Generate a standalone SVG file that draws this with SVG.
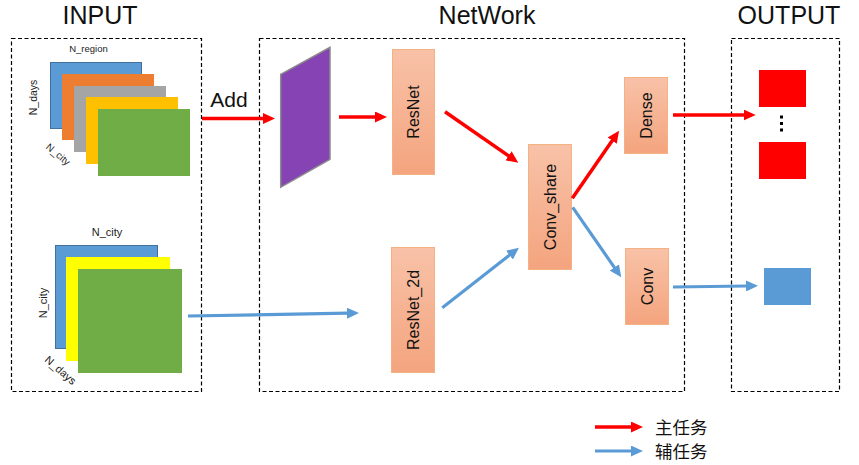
<svg xmlns="http://www.w3.org/2000/svg" width="859" height="465" viewBox="0 0 859 465">
<style>
.frame{fill:none;stroke:#000;stroke-width:1.2;stroke-dasharray:4 2.5}
.title{font-family:"Liberation Sans","Noto Sans",sans-serif;font-size:25px;fill:#111;text-anchor:middle}
.lbl{font-family:"Liberation Sans",Arial,sans-serif;fill:#222;text-anchor:middle}
.node rect{fill:url(#ng);stroke:#F4B183;stroke-width:1}
.ntext{font-family:"Liberation Sans",Arial,sans-serif;font-size:16px;fill:#111;text-anchor:middle;dominant-baseline:central}
.red{stroke:#FF0000;stroke-width:3.5;fill:none;marker-end:url(#ar)}
.blue{stroke:#5B9BD5;stroke-width:3.2;fill:none;marker-end:url(#ab)}
.leg{font-family:"Noto Sans CJK SC","Noto Sans",sans-serif;font-size:17.5px;fill:#111}
</style>
<defs>
<linearGradient id="ng" x1="0" y1="0" x2="0" y2="1">
<stop offset="0" stop-color="#F8C2A8"/>
<stop offset="1" stop-color="#F4A47E"/>
</linearGradient>
<marker id="ar" markerUnits="userSpaceOnUse" markerWidth="12" markerHeight="11" refX="1" refY="5.5" orient="auto">
<path d="M0,0 L12,5.5 L0,11 z" fill="#FF0000"/>
</marker>
<marker id="ab" markerUnits="userSpaceOnUse" markerWidth="12" markerHeight="11" refX="1" refY="5.5" orient="auto">
<path d="M0,0 L12,5.5 L0,11 z" fill="#5B9BD5"/>
</marker>
</defs>
<rect width="859" height="465" fill="#fff"/>

<g id="titles">
<text class="title" x="100" y="24">INPUT</text>
<text class="title" x="487" y="24">NetWork</text>
<text class="title" x="789" y="24">OUTPUT</text>
</g>

<g id="frames">
<rect class="frame" x="11.5" y="38.5" width="190" height="353"/>
<rect class="frame" x="259.5" y="38.5" width="425" height="353"/>
<rect class="frame" x="731.5" y="38.5" width="108" height="353"/>
</g>

<g id="input-main">
<rect x="50.5" y="62.5" width="91" height="66" fill="#5B9BD5" stroke="#41719C" stroke-width="1"/>
<rect x="62" y="74" width="92" height="66" fill="#ED7D31"/>
<rect x="74" y="86" width="92" height="66" fill="#A5A5A5"/>
<rect x="86" y="97" width="92" height="67" fill="#FFC000"/>
<rect x="98" y="109" width="92" height="67" fill="#70AD47"/>
<text class="lbl" x="88.5" y="51.5" font-size="9.5">N_region</text>
<text class="lbl" font-size="10.5" transform="translate(36.5,97.5) rotate(-90)">N_days</text>
<text class="lbl" font-size="10" transform="translate(56,157) rotate(40)">N_city</text>
</g>

<g id="input-aux">
<rect x="55.5" y="245.5" width="102" height="103" fill="#5B9BD5" stroke="#41719C" stroke-width="1"/>
<rect x="66" y="257" width="104" height="104" fill="#FFFF00"/>
<rect x="78" y="269" width="104" height="104" fill="#70AD47"/>
<text class="lbl" x="107" y="236" font-size="11">N_city</text>
<text class="lbl" font-size="11" transform="translate(47,303) rotate(-90)">N_city</text>
<text class="lbl" font-size="11" transform="translate(58,373) rotate(41)">N_days</text>
</g>

<g id="add-layer">
<polygon points="280.7,74.3 330,47.3 330,159.3 280.7,187.3" fill="#8543B3" stroke="#8C8C8C" stroke-width="1.5"/>
</g>

<g id="resnet" class="node">
<rect x="392.5" y="49.5" width="42" height="125"/>
<text class="ntext" transform="translate(413.5,112) rotate(-90)">ResNet</text>
</g>
<g id="resnet2d" class="node">
<rect x="391.5" y="247.5" width="43" height="125"/>
<text class="ntext" transform="translate(413,310) rotate(-90)">ResNet_2d</text>
</g>
<g id="convshare" class="node">
<rect x="528.5" y="144.5" width="43" height="125"/>
<text class="ntext" transform="translate(550,207) rotate(-90)">Conv_share</text>
</g>
<g id="dense" class="node">
<rect x="624.5" y="77.5" width="43" height="76"/>
<text class="ntext" transform="translate(646,115.5) rotate(-90)">Dense</text>
</g>
<g id="conv" class="node">
<rect x="625.5" y="248.5" width="43" height="76"/>
<text class="ntext" transform="translate(647,286.5) rotate(-90)">Conv</text>
</g>

<g id="output-main">
<rect x="759" y="70" width="47" height="37" fill="#FF0000"/>
<rect x="759" y="142" width="47" height="37" fill="#FF0000"/>
<rect x="780" y="115.5" width="3" height="3" fill="#000"/>
<rect x="780" y="122" width="3" height="3" fill="#000"/>
<rect x="780" y="128.5" width="3" height="3" fill="#000"/>
</g>
<g id="output-aux">
<rect x="764" y="268" width="47" height="37" fill="#5B9BD5"/>
</g>

<g id="connectors">
<line class="red" x1="202" y1="118.5" x2="264" y2="118.5"/>
<text x="229" y="107" font-family="Liberation Sans,Arial,sans-serif" font-size="21" fill="#111" text-anchor="middle">Add</text>
<line class="red" x1="339" y1="117" x2="376" y2="117"/>
<line class="red" x1="445" y1="111.7" x2="509.3" y2="156.4"/>
<line class="blue" x1="442.3" y1="307.7" x2="510.3" y2="254.5"/>
<line class="red" x1="572.3" y1="198.3" x2="612.8" y2="139.8"/>
<line class="blue" x1="572.7" y1="207.3" x2="615" y2="268.3"/>
<line class="red" x1="673" y1="115" x2="744.7" y2="115"/>
<line class="blue" x1="673" y1="287" x2="747" y2="286"/>
<line class="blue" x1="188" y1="316" x2="348" y2="313.2"/>
</g>

<g id="legend">
<line class="red" x1="595" y1="427" x2="632" y2="427"/>
<line class="blue" x1="595" y1="451" x2="632" y2="451"/>
<text class="leg" x="655" y="433.5">主任务</text>
<text class="leg" x="655" y="457.5">辅任务</text>
</g>
</svg>
